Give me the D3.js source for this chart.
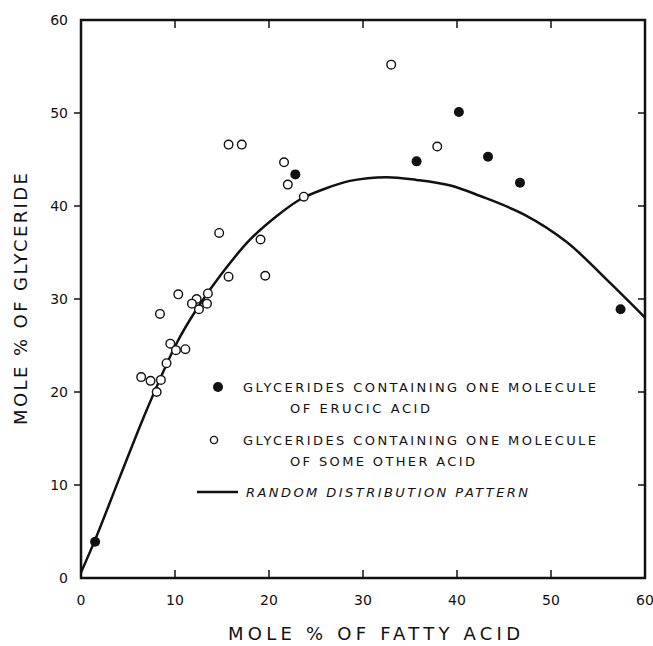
<!doctype html>
<html>
  <head>
    <script src="https://cdn.jsdelivr.net/npm/d3@7/dist/d3.min.js"></script>
    <style>
      body { margin: 0; background: #fff; }
      text { font-family: "DejaVu Sans", sans-serif; fill: #111; }
    </style>
  </head>
  <body>
    <svg id="chart" width="653" height="646"></svg>

    <script>
      // glycerides containing one molecule of erucic acid (filled)
      var erucicX = [1.5, 22.8, 35.7, 40.2, 43.3, 46.7, 57.4];
      var erucicY = [3.9, 43.4, 44.8, 50.1, 45.3, 42.5, 28.9];

      // glycerides containing one molecule of some other acid (open)
      var otherX = [33.0, 37.9, 15.7, 17.1, 21.6, 22.0, 23.7, 14.7, 19.1, 15.7, 19.6,
                    10.35, 13.5, 12.3, 11.8, 13.4, 12.55, 8.4, 9.5, 10.1, 11.1, 9.1,
                    6.4, 7.4, 8.5, 8.05];
      var otherY = [55.2, 46.4, 46.6, 46.6, 44.7, 42.3, 41.0, 37.1, 36.4, 32.4, 32.5,
                    30.5, 30.6, 30.0, 29.5, 29.5, 28.9, 28.4, 25.2, 24.5, 24.6, 23.1,
                    21.6, 21.2, 21.3, 20.0];

      // random distribution pattern
      var curveX = [0, 1.5, 4.15, 7.0, 10.2, 12.3, 14.8, 18.0, 20.8, 23.3, 25.8, 28.6,
                    32.5, 35.7, 39.3, 42.4, 47.1, 51.7, 55.9, 60];
      var curveY = [0.6, 4.1, 10.9, 18.1, 25.3, 28.9, 32.5, 36.4, 38.9, 40.7, 41.8, 42.7,
                    43.1, 42.8, 42.2, 41.1, 39.1, 36.1, 32.1, 28.0];

      var ticks = [0, 10, 20, 30, 40, 50, 60];

      var legendLabels = [
        ["GLYCERIDES CONTAINING ONE MOLECULE", "OF ERUCIC ACID"],
        ["GLYCERIDES CONTAINING ONE MOLECULE", "OF SOME OTHER ACID"],
        ["RANDOM DISTRIBUTION PATTERN"]
      ];

      var svg = d3.select("#chart");
      var x = d3.scaleLinear().domain([0, 60]).range([81, 645]);
      var y = d3.scaleLinear().domain([0, 60]).range([578, 20]);

      // frame
      svg.append("rect")
        .attr("x", x(0)).attr("y", y(60))
        .attr("width", x(60) - x(0)).attr("height", y(0) - y(60))
        .attr("fill", "none").attr("stroke", "#111").attr("stroke-width", 2.5);

      // ticks: left outward, others inward
      var g = svg.append("g").attr("stroke", "#111").attr("stroke-width", 1.5);
      ticks.slice(1, -1).forEach(function(t) {
        g.append("line").attr("x1", x(0) - 7).attr("x2", x(0)).attr("y1", y(t)).attr("y2", y(t));
        g.append("line").attr("x1", x(60) - 7).attr("x2", x(60)).attr("y1", y(t)).attr("y2", y(t));
        g.append("line").attr("x1", x(t)).attr("x2", x(t)).attr("y1", y(0)).attr("y2", y(0) - 8);
        g.append("line").attr("x1", x(t)).attr("x2", x(t)).attr("y1", y(60)).attr("y2", y(60) + 8);
      });

      // tick labels
      svg.append("g").selectAll("text").data(ticks).enter().append("text")
        .attr("x", function(d) { return x(d); })
        .attr("y", 605)
        .attr("text-anchor", "middle")
        .attr("font-size", 14)
        .text(function(d) { return d; });

      svg.append("g").selectAll("text").data(ticks).enter().append("text")
        .attr("x", 68)
        .attr("y", function(d) { return y(d) + 5; })
        .attr("text-anchor", "end")
        .attr("font-size", 14)
        .text(function(d) { return d; });

      // axis titles
      svg.append("text")
        .attr("x", 228).attr("y", 640)
        .attr("font-size", 18)
        .attr("textLength", 292).attr("lengthAdjust", "spacing")
        .text("MOLE % OF FATTY ACID");

      svg.append("text")
        .attr("transform", "translate(27,425) rotate(-90)")
        .attr("font-size", 18)
        .attr("textLength", 252).attr("lengthAdjust", "spacing")
        .text("MOLE % OF GLYCERIDE");

      // curve
      var line = d3.line()
        .x(function(d, i) { return x(curveX[i]); })
        .y(function(d, i) { return y(curveY[i]); })
        .curve(d3.curveCatmullRom);

      svg.append("path")
        .datum(curveX)
        .attr("d", line)
        .attr("fill", "none")
        .attr("stroke", "#111")
        .attr("stroke-width", 2.5);

      // points
      svg.append("g").selectAll("circle").data(otherX).enter().append("circle")
        .attr("cx", function(d) { return x(d); })
        .attr("cy", function(d, i) { return y(otherY[i]); })
        .attr("r", 4.3)
        .attr("fill", "#fff")
        .attr("stroke", "#111")
        .attr("stroke-width", 1.4);

      svg.append("g").selectAll("circle").data(erucicX).enter().append("circle")
        .attr("cx", function(d) { return x(d); })
        .attr("cy", function(d, i) { return y(erucicY[i]); })
        .attr("r", 5)
        .attr("fill", "#111");

      // legend
      var leg = svg.append("g");
      leg.append("circle").attr("cx", 218).attr("cy", 387).attr("r", 5).attr("fill", "#111");
      leg.append("circle").attr("cx", 214).attr("cy", 440).attr("r", 3.6)
        .attr("fill", "#fff").attr("stroke", "#111").attr("stroke-width", 1.4);
      leg.append("line").attr("x1", 197).attr("x2", 238).attr("y1", 492).attr("y2", 492)
        .attr("stroke", "#111").attr("stroke-width", 2.5);

      var legRows = [
        { t: legendLabels[0][0], x: 243, y: 392, w: 353 },
        { t: legendLabels[0][1], x: 290, y: 413, w: 140 },
        { t: legendLabels[1][0], x: 243, y: 445, w: 353 },
        { t: legendLabels[1][1], x: 290, y: 466, w: 185 },
        { t: legendLabels[2][0], x: 246, y: 497, w: 282, italic: true }
      ];
      leg.selectAll("text").data(legRows).enter().append("text")
        .attr("x", function(d) { return d.x; })
        .attr("y", function(d) { return d.y; })
        .attr("font-size", 13)
        .attr("font-style", function(d) { return d.italic ? "italic" : "normal"; })
        .attr("textLength", function(d) { return d.w; })
        .attr("lengthAdjust", "spacing")
        .text(function(d) { return d.t; });
    </script>
  </body>
</html>
